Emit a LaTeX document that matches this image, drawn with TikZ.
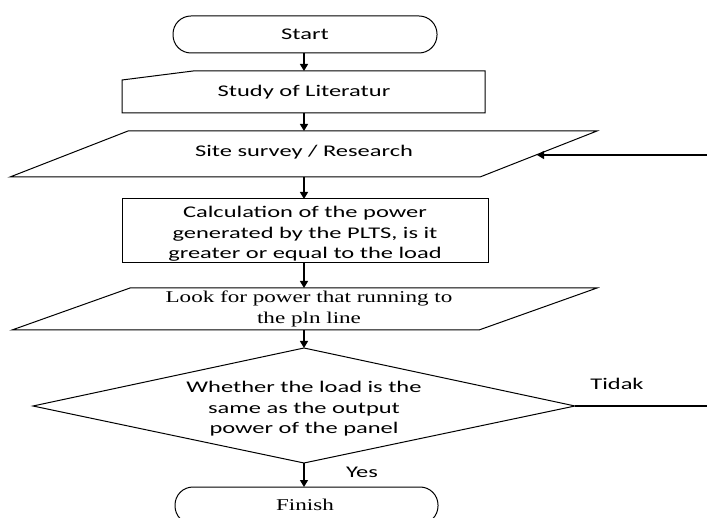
\documentclass[tikz,border=0pt]{standalone}
\usepackage{fontspec}
\setmainfont[FakeStretch=1.5]{Carlito}
\newfontfamily\serifx[FakeStretch=1.4]{Liberation Serif}
\usetikzlibrary{arrows.meta}
\begin{document}
\begin{tikzpicture}[x=1pt,y=-1pt,
  shp/.style={draw=black,line width=1pt},
  conn/.style={draw=black,line width=1.4pt,-{Triangle[length=7pt,width=8pt]}},
  plain/.style={draw=black,line width=1.1pt},
  lbl/.style={font=\fontsize{16.3}{20.5}\selectfont,align=center,inner sep=0pt},
  slbl/.style={font=\serifx\fontsize{16.5}{21}\selectfont,align=center,inner sep=0pt}]
\useasboundingbox (0,0) rectangle (707,518);
\begin{scope}
\clip (0,0) rectangle (707,518);
% shapes
\draw[shp,rounded corners=18pt] (173,16) rectangle (437,53);
\draw[shp] (122,80) -- (193,71) -- (485,71) -- (485,113) -- (122,113) -- cycle;
\draw[shp] (128,131) -- (597,131) -- (480,177) -- (10,177) -- cycle;
\draw[shp] (122,199) rectangle (488,263);
\draw[shp] (130,288) -- (597,288) -- (479,330) -- (12,330) -- cycle;
\draw[shp] (304,348) -- (575,406) -- (304,463) -- (33,406) -- cycle;
\draw[shp,rounded corners=18pt] (175,487) rectangle (438,524);
% anchor coordinates
\coordinate (startB) at (304,53);
\coordinate (studyT) at (304,71);
\coordinate (studyB) at (304,113);
\coordinate (siteT) at (304,131);
\coordinate (siteB) at (304,177);
\coordinate (siteR) at (537,155);
\coordinate (calcT) at (304,199);
\coordinate (calcB) at (304,263);
\coordinate (lookT) at (304,288);
\coordinate (lookB) at (304,330);
\coordinate (decT) at (304,348);
\coordinate (decB) at (304,463);
\coordinate (decR) at (575,406);
\coordinate (finT) at (304,487);
\coordinate (edgeA) at (707,155);
\coordinate (edgeB) at (707,406);
% texts
\node[lbl] (start) at (305,34.5) {Start};
\node[lbl] (study) at (304,92) {Study of Literatur};
\node[lbl] (site) at (304,152) {Site survey / Research};
\node[lbl] (calc) at (305,234) {Calculation of the power\\generated by the PLTS, is it\\greater or equal to the load};
\node[slbl] (look) at (309,309) {Look for power that running to\\the pln line};
\node[lbl] (dec) at (304,409) {Whether the load is the\\same as the output\\power of the panel};
\node[lbl] (tidak) at (617,384) {Tidak};
\node[lbl] (yes) at (362,472) {Yes};
\node[slbl] (finish) at (305,505) {Finish};
% connectors
\draw[conn] (startB) -- (studyT);
\draw[conn] (studyB) -- (siteT);
\draw[conn] (siteB) -- (calcT);
\draw[conn] (calcB) -- (lookT);
\draw[conn] (lookB) -- (decT);
\draw[conn] (decB) -- (finT);
\draw[plain] (decR) -- (edgeB);
\draw[conn] (edgeA) -- (siteR);
\end{scope}
\end{tikzpicture}
\end{document}
